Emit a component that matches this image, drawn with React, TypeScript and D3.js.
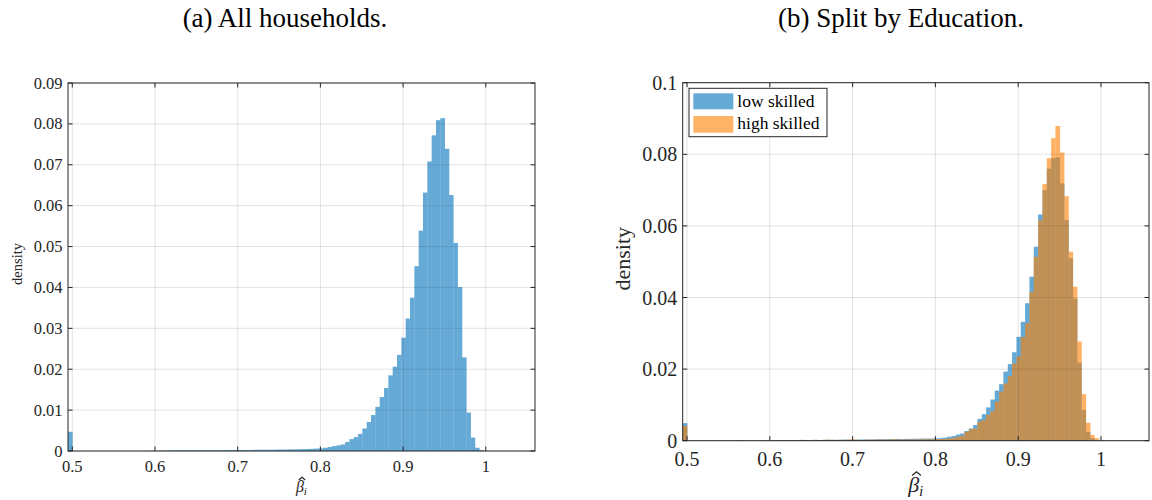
import React from 'react';
import * as d3 from 'd3';

// histogram bins (MATLAB auto binning)
const binStart = 0.4948;
const binWidth = 0.005235;

// bar heights, in units of 1e-4 (probability per bin)
const allHouseholds = [
  47,
  0, 0, 0, 0, 0, 0, 0, 0, 0, 0, 0, 0, 0, 0, 0, 0, 0, 0.5, 0.5,
  0.5, 1, 1, 1.5, 1.5, 2, 2, 2, 2, 2, 2, 2, 2, 2, 2, 2, 2.5, 2.5, 2.5, 2.5,
  2.5, 2.5, 2.5, 3, 3, 3, 3, 3, 3.5, 3.5,
  3.5, 4, 4, 4.5, 4.5, 5, 5.5, 6, 6.5, 8, 10, 12, 14,
  16, 22, 29, 34, 42, 55, 71, 88, 108, 132, 154, 185, 206, 235,
  277, 324, 375, 452, 539, 632, 708, 772, 809, 814, 739, 626, 509, 401, 229, 94, 33, 8, 2,
];

const lowSkilled = [
  49,
  0, 0, 0, 0, 0, 0, 0, 0, 0, 0, 0, 0, 0, 0, 0, 0, 0, 0, 0.5,
  0.5, 1, 1, 1.5, 1.5, 2, 1.5, 2, 2, 2, 2.5, 2, 2.5, 2.5, 2.5, 2.5, 3, 3, 3, 3,
  3, 3.5, 3.5, 3.5, 4, 4, 4, 4.5, 4.5, 5,
  4.5, 5, 5, 5.5, 5.5, 6, 6, 6, 6.5,
  7, 8.4, 11, 13, 17, 20, 27, 34, 44, 61, 74, 93, 115, 140, 158, 193, 214, 247,
  290, 332, 384, 458, 542, 632, 700, 760, 789, 792, 719, 616, 510, 397, 218, 86, 25, 7, 1,
];

const highSkilled = [
  41,
  0, 0, 0, 0, 0, 0, 0, 0, 0, 0, 0, 1, 1.5, 0.5, 0, 0, 0, 0.5, 0,
  0.5, 1, 1, 2, 1.5, 1, 1.5, 2.5, 2, 1.5, 1, 2, 2, 3, 2.5, 2, 1.5, 2.5, 3, 3.5,
  2.5, 2, 3, 2.5, 3, 3.5, 3, 3, 4, 3.5,
  3, 3.5, 3.5, 3.5, 4, 4, 4, 4, 4.5,
  4.5, 5, 6.5, 8, 11, 14, 25, 32, 34, 53, 58, 72, 83, 109, 137, 160, 181, 216,
  235, 290, 328, 416, 514, 616, 717, 789, 845, 879, 805, 683, 528, 430, 277, 130, 50, 16, 7,
];

const xTicks = [0.5, 0.6, 0.7, 0.8, 0.9, 1];
const yTicksA = [0, 0.01, 0.02, 0.03, 0.04, 0.05, 0.06, 0.07, 0.08, 0.09];
const yTicksB = [0, 0.02, 0.04, 0.06, 0.08, 0.1];
const titles = ['(a) All households.', '(b) Split by Education.'];
const legendLabels = ['low skilled', 'high skilled'];

const BLUE = '#0072BD';
const ORANGE = '#FF8000';
const AXIS = '#262626';
const FONT = '"Liberation Serif", "Times New Roman", serif';

const fmt = (v: number) => String(+v.toFixed(2));

function Panel(props: any) {
  const { box, xDomain, yMax, yTicks, series, tickSize, labelSize, xlabSize, tickBase, ylabX, xlabY } = props;
  const x = d3.scaleLinear().domain(xDomain).range([box.left, box.right]);
  const y = d3.scaleLinear().domain([0, yMax]).range([box.bottom, box.top]);
  const tl = 4.5;
  const cx = (box.left + box.right) / 2;
  // beta-hat label: beta glyph starts left of centre, hat sits over it
  const bx = cx - xlabSize * 0.35;
  const hatX = bx + xlabSize * 0.38;
  const hatY = xlabY - xlabSize * 0.92;
  const hw = xlabSize * 0.2;
  const hh = xlabSize * 0.17;

  return (
    <g>
      {series.map((s: any, si: number) => (
        <g key={si} fill={s.color} opacity={0.6}>
          {s.values.map((v: number, i: number) => {
            if (v <= 0) return null;
            const e0 = binStart + i * binWidth;
            const e1 = e0 + binWidth;
            const px0 = x(e0);
            const px1 = x(e1);
            return <rect key={i} x={px0} y={y(v / 1e4)} width={px1 - px0 + 0.3} height={y(0) - y(v / 1e4)} />;
          })}
        </g>
      ))}
      {/* grid on top, like MATLAB */}
      <g stroke={AXIS} strokeOpacity={0.13} strokeWidth={1}>
        {xTicks.map((t) => <line key={'gx' + t} x1={x(t)} x2={x(t)} y1={box.top} y2={box.bottom} />)}
        {yTicks.map((t: number) => <line key={'gy' + t} x1={box.left} x2={box.right} y1={y(t)} y2={y(t)} />)}
      </g>
      <rect x={box.left} y={box.top} width={box.right - box.left} height={box.bottom - box.top}
        fill="none" stroke={AXIS} strokeWidth={1} />
      <g stroke={AXIS} strokeWidth={1}>
        {xTicks.map((t) => (
          <g key={'tx' + t}>
            <line x1={x(t)} x2={x(t)} y1={box.bottom} y2={box.bottom - tl} />
            <line x1={x(t)} x2={x(t)} y1={box.top} y2={box.top + tl} />
          </g>
        ))}
        {yTicks.map((t: number) => (
          <g key={'ty' + t}>
            <line x1={box.left} x2={box.left + tl} y1={y(t)} y2={y(t)} />
            <line x1={box.right} x2={box.right - tl} y1={y(t)} y2={y(t)} />
          </g>
        ))}
      </g>
      <g fontFamily={FONT} fontSize={tickSize} fill={AXIS}>
        {xTicks.map((t) => (
          <text key={'lx' + t} x={x(t)} y={tickBase} textAnchor="middle">{fmt(t)}</text>
        ))}
        {yTicks.map((t: number) => (
          <text key={'ly' + t} x={box.left - 5.5} y={y(t)} textAnchor="end" dominantBaseline="central">{fmt(t)}</text>
        ))}
      </g>
      <text transform={`translate(${ylabX},${(box.top + box.bottom) / 2 - 3}) rotate(-90)`}
        textAnchor="middle" fontFamily={FONT} fontSize={labelSize} fill={AXIS}>density</text>
      <text x={bx} y={xlabY} fontFamily={FONT} fontSize={xlabSize} fontStyle="italic" fill={AXIS}>
        {'\u03B2'}<tspan fontSize={xlabSize * 0.7} dy={xlabSize * 0.2}>i</tspan>
      </text>
      <path d={`M${hatX - hw},${hatY + hh} L${hatX},${hatY} L${hatX + hw},${hatY + hh}`}
        fill="none" stroke={AXIS} strokeWidth={1.2} />
    </g>
  );
}

export default function App() {
  const boxA = { left: 68, right: 535, top: 83, bottom: 451 };
  const boxB = { left: 682.7, right: 1149, top: 82.7, bottom: 440.7 };
  return (
    <div style={{ position: 'absolute', left: 0, top: 0 }}>
      <svg width={1152} height={500} style={{ display: 'block', background: '#fff' }}>
        <g fontFamily={FONT} fontSize={27} fill="#000" textAnchor="middle">
          <text x={285} y={27}>{titles[0]}</text>
          <text x={901} y={27}>{titles[1]}</text>
        </g>
        <Panel box={boxA} xDomain={[0.4948, 1.0595]} yMax={0.09} yTicks={yTicksA}
          series={[{ values: allHouseholds, color: BLUE }]}
          tickSize={16.5} labelSize={14.5} xlabSize={16} tickBase={471.5} ylabX={22} xlabY={492} />
        <Panel box={boxB} xDomain={[0.4948, 1.058]} yMax={0.1} yTicks={yTicksB}
          series={[{ values: lowSkilled, color: BLUE }, { values: highSkilled, color: ORANGE }]}
          tickSize={20} labelSize={22} xlabSize={22} tickBase={466} ylabX={630} xlabY={492} />
        <g>
          <rect x={689} y={88.3} width={138} height={48.4} fill="#fff" stroke={AXIS} strokeWidth={1} />
          <rect x={693.3} y={93.3} width={40} height={16} fill={BLUE} fillOpacity={0.6} />
          <rect x={693.3} y={116} width={40} height={16.7} fill={ORANGE} fillOpacity={0.6} />
          <g fontFamily={FONT} fontSize={17.5} fill="#000">
            <text x={737.3} y={106.7}>{legendLabels[0]}</text>
            <text x={737.3} y={128.5}>{legendLabels[1]}</text>
          </g>
        </g>
      </svg>
    </div>
  );
}
